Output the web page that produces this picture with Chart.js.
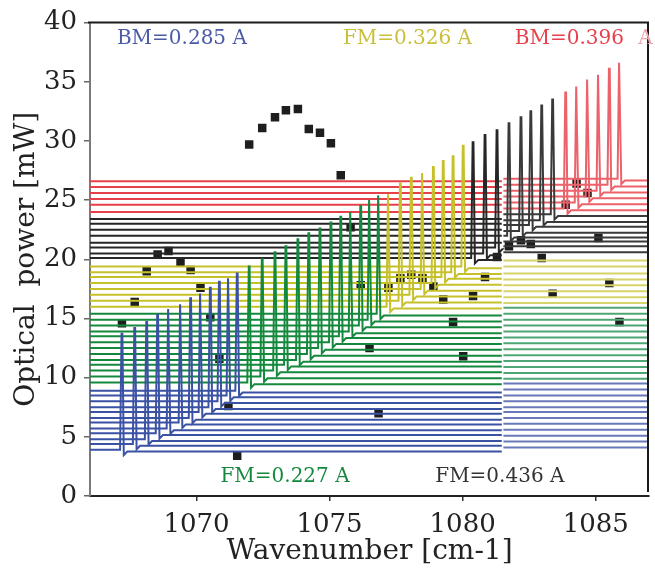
<!DOCTYPE html>
<html>
<head>
<meta charset="utf-8">
<script src="https://cdn.jsdelivr.net/npm/chart.js@4.4.1/dist/chart.umd.min.js"></script>
<style>
  html, body { margin: 0; padding: 0; background: #fff; }
  canvas { display: block; }
</style>
</head>
<body>
<canvas id="chart" width="655" height="574"></canvas>
<script>
// Laser spectra stacked by drive current, one trace per line, plus peak power (squares)
const groupNames = ['BM=0.285 A', 'FM=0.227 A', 'FM=0.326 A', 'FM=0.436 A', 'BM=0.396 A'];
const groupSizes = [12, 13, 8, 8, 6];
const groupColors = ['#3b52a4', '#14893d', '#c6c12a', '#262626', '#e6404a'];
const groupPale = ['#6878b8', '#4da673', '#d6d36a', '#3a3a3a', '#ec626a'];

// peak wavenumber of each trace [cm-1]
const peakPos = [
  1067.20, 1067.68, 1068.13, 1068.54, 1068.95, 1069.40, 1069.78, 1070.15, 1070.52, 1070.86, 1071.20, 1071.53,
  1071.98, 1072.47, 1072.95, 1073.36, 1073.81, 1074.22, 1074.64, 1075.05, 1075.42, 1075.79, 1076.17, 1076.50, 1076.84,
  1077.21, 1077.66, 1078.07, 1078.49, 1078.90, 1079.27, 1079.64, 1080.02,
  1080.39, 1080.84, 1081.29, 1081.74, 1082.19, 1082.56, 1082.97, 1083.38,
  1083.87, 1084.28, 1084.69, 1085.10, 1085.51, 1085.89
];
// top of each spectral peak [mW, offset included]
const peakTop = [
  13.7, 14.2, 14.7, 15.3, 15.8, 16.2, 16.7, 17.1, 17.6, 18.1, 18.4, 18.8,
  19.4, 20.0, 20.6, 21.1, 21.7, 22.2, 22.6, 23.1, 23.6, 24.0, 24.5, 25.0, 25.4,
  25.5, 26.4, 26.9, 27.3, 27.8, 28.3, 28.7, 29.6,
  29.9, 30.5, 30.9, 31.5, 32.0, 32.5, 33.0, 33.5,
  34.1, 34.6, 35.2, 35.6, 36.1, 36.6
];
// baseline offset of each trace, first scan window (below 1081.5)
const baseLeft = [
  3.9, 4.4, 4.8, 5.3, 5.7, 6.2, 6.6, 7.1, 7.5, 8.0, 8.5, 8.9,
  9.6, 10.1, 10.6, 11.1, 11.5, 12.0, 12.5, 13.0, 13.5, 13.9, 14.4, 14.9, 15.4,
  16.0, 16.5, 17.0, 17.5, 18.0, 18.5, 18.9, 19.4,
  20.1, 20.5, 21.0, 21.4, 22.0, 22.5, 23.0, 23.4,
  24.0, 24.6, 25.1, 25.6, 26.1, 26.6
];
// baseline offset of each trace, second scan window (above 1081.5)
const baseRight = [
  4.1, 4.6, 5.1, 5.6, 6.1, 6.6, 7.1, 7.5, 8.0, 8.5, 9.0, 9.5,
  9.9, 10.4, 10.9, 11.4, 11.9, 12.4, 12.9, 13.4, 13.9, 14.4, 14.9, 15.4, 15.9,
  16.3, 16.8, 17.3, 17.8, 18.3, 18.8, 19.4, 19.9,
  20.6, 21.1, 21.5, 22.0, 22.4, 22.9, 23.3, 23.8,
  24.3, 24.8, 25.3, 25.8, 26.3, 26.8
];
// measured output power at each peak [mW]
const peakPower = [
  14.6, 16.4, 19.0, 20.4, 20.7, 19.7, 19.1, 17.6, 15.1, 11.6, 7.6, 3.4,
  29.7, 31.1, 32.0, 32.6, 32.7, 31.0, 30.7, 29.8, 27.1, 22.7, 17.8, 12.5, 7.0,
  17.6, 18.4, 18.7, 18.4, 17.7, 16.6, 14.7, 11.8,
  16.9, 18.5, 20.2, 21.1, 21.6, 21.3, 20.1, 17.1,
  24.6, 26.4, 25.6, 21.8, 18.0, 14.7
];
const xTicks = [1070, 1075, 1080, 1085];
const yTicks = [0, 5, 10, 15, 20, 25, 30, 35, 40];

const X_MIN = 1066, X_MAX = 1087, SPLIT = 1081.5;
const HALF = 0.07;       // half width of a peak at its foot
const SERIF = "'DejaVu Serif', serif";

function groupOf(i) {
  let n = 0;
  for (let g = 0; g < groupSizes.length; g++) {
    n += groupSizes[g];
    if (i < n) return g;
  }
  return groupSizes.length - 1;
}

// one spectrum: flat baseline, narrow peak, small undershoot after it
function peakPoints(xp, top, base) {
  return [
    { x: xp - HALF, y: base },
    { x: xp - 0.015, y: top },
    { x: xp + 0.015, y: top },
    { x: xp + HALF, y: base - 0.45 },
    { x: xp + 0.2, y: base - 0.15 }
  ];
}

function traceData(i) {
  const xp = peakPos[i], bl = baseLeft[i], br = baseRight[i];
  const pts = [{ x: X_MIN, y: bl }];
  if (xp < SPLIT) {
    pts.push(...peakPoints(xp, peakTop[i], bl));
    pts.push({ x: SPLIT - 0.03, y: bl - 0.15 });
    pts.push({ x: SPLIT, y: null });
    pts.push({ x: SPLIT + 0.03, y: br }, { x: X_MAX, y: br });
  } else {
    pts.push({ x: SPLIT - 0.03, y: bl });
    pts.push({ x: SPLIT, y: null });
    pts.push({ x: SPLIT + 0.03, y: br });
    pts.push(...peakPoints(xp, peakTop[i], br));
    pts.push({ x: X_MAX, y: br - 0.15 });
  }
  return pts;
}

const datasets = peakPos.map((xp, i) => {
  const g = groupOf(i);
  return {
    type: 'line',
    label: groupNames[g],
    data: traceData(i),
    borderColor: groupColors[g],
    borderWidth: 2,
    pointRadius: 0,
    tension: 0,
    fill: false,
    spanGaps: false,
    order: 0,
    segment: {
      borderColor: c => (c.p0.parsed.x > SPLIT ? groupPale[g] : groupColors[g])
    }
  };
});

datasets.push({
  type: 'scatter',
  label: 'power',
  data: peakPos.map((x, i) => ({ x: x, y: peakPower[i] })),
  pointStyle: 'rect',
  pointRadius: 6,
  backgroundColor: '#1e1e1e',
  borderWidth: 0,
  showLine: false,
  order: 1
});

const annotations = {
  id: 'annotations',
  afterDatasetsDraw(chart) {
    const { ctx, chartArea: a, scales: { x, y } } = chart;
    ctx.save();
    // top and right frame
    ctx.strokeStyle = '#1a1a1a';
    ctx.lineWidth = 2;
    ctx.beginPath();
    ctx.moveTo(a.left - 2, a.top);
    ctx.lineTo(a.right - 1, a.top);
    ctx.lineTo(a.right - 1, a.bottom - 4);
    ctx.stroke();

    ctx.font = '20px ' + SERIF;
    ctx.textBaseline = 'middle';
    ctx.textAlign = 'left';
    const put = (text, wx, wy, color) => {
      ctx.fillStyle = color;
      ctx.fillText(text, x.getPixelForValue(wx), y.getPixelForValue(wy));
    };
    put(groupNames[0], 1067.01, 38.6, '#4a5aa8');
    put(groupNames[2], 1075.5, 38.6, '#c8bf3a');
    put('BM=0.396', 1081.96, 38.6, '#e6404a');
    ctx.fillStyle = '#f0a4ac';
    ctx.fillText('A', x.getPixelForValue(1086.6), y.getPixelForValue(38.6));
    put(groupNames[1], 1070.9, 1.6, '#14893d');
    put(groupNames[3], 1078.97, 1.6, '#333333');
    ctx.restore();
  }
};

new Chart(document.getElementById('chart'), {
  type: 'line',
  data: { datasets },
  options: {
    responsive: false,
    animation: false,
    devicePixelRatio: 1,
    layout: { padding: { top: 20, right: 2, left: 0, bottom: 0 } },
    plugins: { legend: { display: false }, tooltip: { enabled: false } },
    scales: {
      x: {
        type: 'linear',
        min: X_MIN,
        max: X_MAX,
        afterFit: s => { s.height = 78; },
        afterBuildTicks: s => { s.ticks = xTicks.map(v => ({ value: v })); },
        grid: { drawOnChartArea: false, tickLength: 5, color: '#333', lineWidth: 1.5 },
        border: { color: '#222', width: 2, dash: [22, 6, 56, 5, 32, 4, 70, 6, 40, 5, 88, 7, 46, 6, 60, 5] },
        ticks: {
          font: { family: SERIF, size: 26 },
          color: '#222',
          padding: 9,
          maxRotation: 0,
          callback: v => String(v)
        },
        title: {
          display: true,
          text: 'Wavenumber [cm-1]',
          font: { family: SERIF, size: 28 },
          color: '#222',
          padding: { top: 0, bottom: 5 }
        }
      },
      y: {
        type: 'linear',
        min: 0,
        max: 40,
        afterFit: s => { s.width = 90; },
        afterBuildTicks: s => { s.ticks = yTicks.map(v => ({ value: v })); },
        grid: { drawOnChartArea: false, tickLength: 6, color: '#666', lineWidth: 1.5 },
        border: { color: '#7a7a7a', width: 2 },
        ticks: {
          font: { family: SERIF, size: 26 },
          color: '#222',
          padding: 7,
          callback: v => String(v)
        },
        title: {
          display: true,
          text: 'Optical  power [mW]',
          font: { family: SERIF, size: 28 },
          color: '#222',
          padding: { top: 10, bottom: 0 }
        }
      }
    }
  },
  plugins: [annotations]
});
</script>
</body>
</html>
